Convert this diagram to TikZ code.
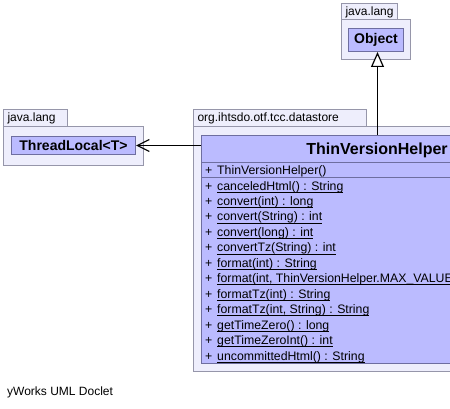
\documentclass[tikz,border=0pt]{standalone}
\usepackage{fontspec}
\setmainfont{Liberation Sans}
\usetikzlibrary{positioning}
\usetikzlibrary{arrows.meta}
\definecolor{pkgfill}{RGB}{238,238,252}
\definecolor{pkgline}{RGB}{150,150,170}
\definecolor{clsfill}{RGB}{187,187,255}
\definecolor{clsline}{RGB}{110,110,160}
\tikzset{
    pkgtab/.style = {rectangle, line width=1pt, draw=pkgline, fill=pkgfill, anchor=north west, minimum height=17pt, inner xsep=4pt, inner ysep=0pt, align=left, font=\fontsize{12}{14}\selectfont},
    pkgbody/.style = {rectangle, line width=1pt, draw=pkgline, fill=pkgfill, anchor=north west, inner sep=0pt},
    cls/.style = {rectangle, line width=1pt, draw=clsline, fill=clsfill, anchor=north west, inner sep=0pt, font=\fontsize{14}{16}\bfseries\selectfont},
    clsname/.style = {anchor=base, inner sep=0pt, font=\fontsize{16}{18}\bfseries\selectfont},
    member/.style = {anchor=base west, inner sep=0pt, font=\fontsize{12.3}{14}\selectfont},
    sep/.style = {line width=1pt, draw=clsline},
    extends/.style = {-{Triangle[open,fill=white,length=15pt,width=13pt]}, line width=1.2pt, black},
    uses/.style = {-{Straight Barb[length=12pt,width=12pt]}, line width=1.2pt, black},
    note/.style = {anchor=base west, inner sep=0pt, font=\fontsize{12}{14}\selectfont}
}
\newsavebox{\stcbox}
\newcommand{\pub}[1]{\makebox[12pt][l]{+}#1}
\newcommand{\stc}[1]{\makebox[12pt][l]{+}\sbox{\stcbox}{#1}\rlap{\rule[-2.6pt]{\wd\stcbox}{0.9pt}}\usebox{\stcbox}}

\begin{document}
\begin{tikzpicture}[x=1pt,y=-1pt]
\useasboundingbox[fill=white] (0,0) rectangle (450,409);
% java.lang : Object
\node[pkgtab, text width=48pt] (objtab) at (341,3) {java.lang};
\node[pkgbody, minimum width=69pt, minimum height=40pt] (objpkg) at (341,19) {};
\node[cls, minimum width=55pt, minimum height=23pt] (obj) at (348,28) {Object};
% java.lang : ThreadLocal
\node[pkgtab, text width=56pt] (tltab) at (3,109) {java.lang};
\node[pkgbody, minimum width=140pt, minimum height=39pt] (tlpkg) at (3,126) {};
\node[cls, minimum width=124pt, minimum height=18pt] (tl) at (11,136) {ThreadLocal<T>};
% org.ihtsdo.otf.tcc.datastore
\node[pkgtab, text width=165pt] (dstab) at (193,109) {org.ihtsdo.otf.tcc.datastore};
\node[pkgbody, minimum width=370pt, minimum height=245pt] (dspkg) at (193,126) {};
\node[cls, minimum width=352pt, minimum height=228pt] (thin) at (201,135) {};
\node[clsname] (thinname) at (377,154.7) {ThinVersionHelper};
\draw[sep] (201,163) -- (553,163);
\draw[sep] (201,178) -- (553,178);
\node[member] (m0) at (205,174.5) {\pub{ThinVersionHelper()}};
\node[member] (m1) at (205,190.0) {\stc{canceledHtml() : String}};
\node[member] (m2) at (205,205.5) {\stc{convert(int) : long}};
\node[member] (m3) at (205,220.9) {\stc{convert(String) : int}};
\node[member] (m4) at (205,236.4) {\stc{convert(long) : int}};
\node[member] (m5) at (205,251.8) {\stc{convertTz(String) : int}};
\node[member] (m6) at (205,267.3) {\stc{format(int) : String}};
\node[member] (m7) at (205,282.7) {\stc{format(int, ThinVersionHelper.MAX\_VALUE) : String}};
\node[member] (m8) at (205,298.2) {\stc{formatTz(int) : String}};
\node[member] (m9) at (205,313.6) {\stc{formatTz(int, String) : String}};
\node[member] (m10) at (205,329.1) {\stc{getTimeZero() : long}};
\node[member] (m11) at (205,344.5) {\stc{getTimeZeroInt() : int}};
\node[member] (m12) at (205,360.0) {\stc{uncommittedHtml() : String}};
%
\draw[extends] (thin.north) -- (thin.north |- obj.south);
\draw[uses] (thin.west |- tl.east) -- (tl.east);
%
\node[note] (doclet) at (7,395.5) {yWorks UML Doclet};
\end{tikzpicture}
\end{document}
